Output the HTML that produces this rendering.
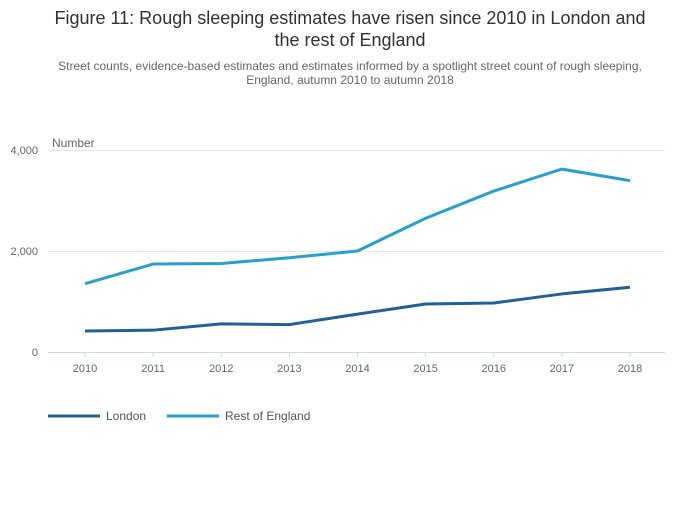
<!DOCTYPE html>
<html><head><meta charset="utf-8"><style>
body{margin:0;background:#fff;font-family:"Liberation Sans",sans-serif;}
svg text{font-family:"Liberation Sans",sans-serif;}
</style></head><body>
<svg width="700" height="502" xmlns="http://www.w3.org/2000/svg">
<text x="350" y="24" text-anchor="middle" font-size="18" fill="#323132">Figure 11: Rough sleeping estimates have risen since 2010 in London and</text>
<text x="350" y="46" text-anchor="middle" font-size="18" fill="#323132">the rest of England</text>
<text x="350" y="70" text-anchor="middle" font-size="12" fill="#666">Street counts, evidence-based estimates and estimates informed by a spotlight street count of rough sleeping,</text>
<text x="350" y="84" text-anchor="middle" font-size="12" fill="#666">England, autumn 2010 to autumn 2018</text>
<text x="52" y="147" font-size="12" fill="#666">Number</text>
<g id="grid"></g><g id="xt"></g><g id="series"></g>
<line x1="48" x2="665" y1="352.5" y2="352.5" stroke="#ccd6eb"/>
<g>
<line x1="48" x2="100" y1="416" y2="416" stroke="#206095" stroke-width="3"/>
<text x="106" y="420" font-size="12" fill="#555">London</text>
<line x1="167" x2="219" y1="416" y2="416" stroke="#27a0cc" stroke-width="3"/>
<text x="225" y="420" font-size="12" fill="#555">Rest of England</text>
</g>
</svg>
<script>
const years=["2010","2011","2012","2013","2014","2015","2016","2017","2018"];
const london=[415,432,557,543,750,950,970,1150,1283];
const restOfEngland=[1353,1742,1752,1866,2000,2649,3187,3622,3394];
const yTicks=[0,2000,4000];
const yTickLabels=["0","2,000","4,000"];
const NS="http://www.w3.org/2000/svg";
const x=i=>85+i*(630-85)/(years.length-1);
const y=v=>352-v*(202/4000);
const grid=document.getElementById('grid');
yTicks.forEach((t,i)=>{
  const l=document.createElementNS(NS,'line');
  l.setAttribute('x1',48);l.setAttribute('x2',665);l.setAttribute('y1',y(t)+0.5);l.setAttribute('y2',y(t)+0.5);
  l.setAttribute('stroke','#e6e6e6');
  
  
  grid.appendChild(l);
  const tx=document.createElementNS(NS,'text');
  tx.setAttribute('x',38);tx.setAttribute('y',y(t)+4);tx.setAttribute('text-anchor','end');
  tx.setAttribute('font-size','11');tx.setAttribute('fill','#666');
  tx.textContent=yTickLabels[i];
  
  
  grid.appendChild(tx);
});
const xt=document.getElementById('xt');
years.forEach((yr,i)=>{
  const l=document.createElementNS(NS,'line');
  l.setAttribute('x1',x(i));l.setAttribute('x2',x(i));l.setAttribute('y1',352);l.setAttribute('y2',357);
  l.setAttribute('stroke','#ccd6eb');
  
  
  xt.appendChild(l);
  const tx=document.createElementNS(NS,'text');
  tx.setAttribute('x',x(i));tx.setAttribute('y',372);tx.setAttribute('text-anchor','middle');
  tx.setAttribute('font-size','11');tx.setAttribute('fill','#666');
  tx.textContent=yr;
  
  
  xt.appendChild(tx);
});
const sg=document.getElementById('series');
[[london,'#206095','london-line'],[restOfEngland,'#27a0cc','rest-of-england-line']].forEach(([d,c,n])=>{
  const p=document.createElementNS(NS,'path');
  p.setAttribute('d',d.map((v,i)=>(i?'L':'M')+x(i)+' '+y(v)).join(' '));
  p.setAttribute('fill','none');p.setAttribute('stroke',c);p.setAttribute('stroke-width','3');
  p.setAttribute('stroke-linejoin','round');
  
  
  sg.appendChild(p);
});
</script>
</body></html>
